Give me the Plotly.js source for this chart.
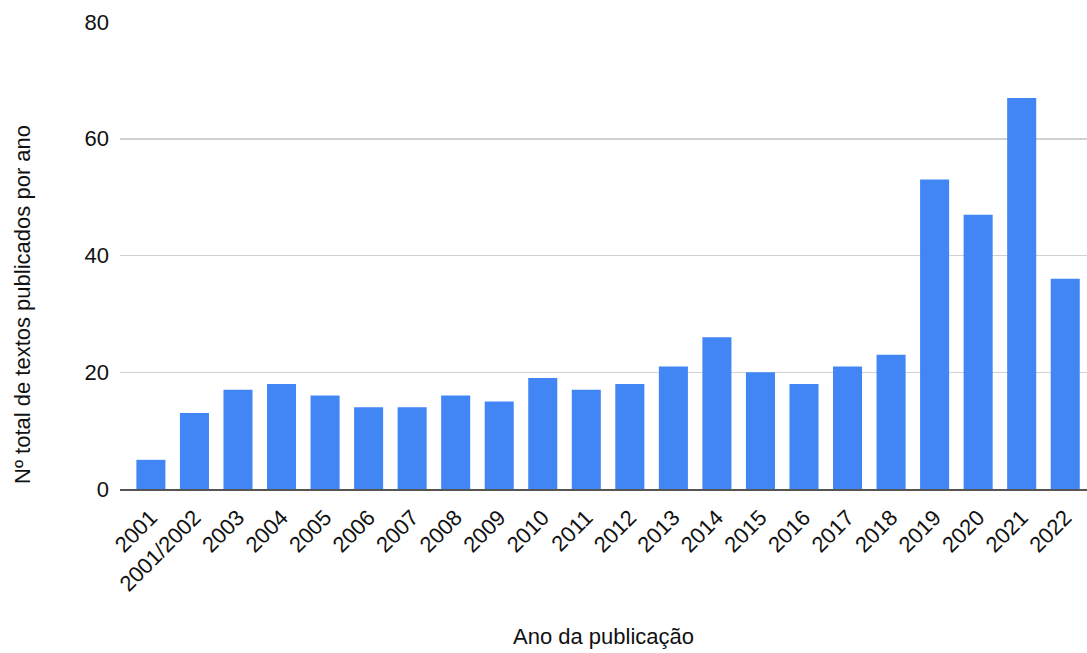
<!DOCTYPE html>
<html>
<head>
<meta charset="utf-8">
<script src="https://cdn.plot.ly/plotly-3.0.1.min.js"></script>
<style>html,body{margin:0;padding:0;background:#fff;}#chart{width:1087px;height:653px;}</style>
</head>
<body>
<div id="chart"></div>
<script>
const categories = ["2001","2001/2002","2003","2004","2005","2006","2007","2008","2009","2010","2011","2012","2013","2014","2015","2016","2017","2018","2019","2020","2021","2022"];
const values = [5,13,17,18,16,14,14,16,15,19,17,18,21,26,20,18,21,23,53,47,67,36];
const yTickVals = [0,20,40,60,80];
const xTitle = "Ano da publicação";
const yTitle = "Nº total de textos publicados por ano";

const font = "Liberation Sans, Arial, sans-serif";
const txt = "#111";
const trace = {
  type: "bar",
  x: categories.map((c, i) => i),
  y: values,
  marker: {color: "#4285F4"},
  hoverinfo: "x+y"
};
const layout = {
  width: 1087, height: 653,
  margin: {l: 120, r: 0, t: 22, b: 163.7},
  paper_bgcolor: "#fff", plot_bgcolor: "#fff",
  bargap: 0.333,
  showlegend: false,
  font: {family: font, size: 22, color: txt},
  xaxis: {
    range: [-0.71, 21.5],
    tickmode: "array",
    tickvals: categories.map((c, i) => i),
    ticktext: categories,
    tickangle: -45,
    showgrid: false,
    zeroline: false,
    showline: true, linecolor: "#555", linewidth: 2,
    ticks: "",
    ticklabelstandoff: 5,
    tickfont: {family: font, size: 22, color: txt}
  },
  yaxis: {
    range: [0, 80],
    tickmode: "array",
    tickvals: yTickVals,
    gridcolor: "#d0d0d0", gridwidth: 1.5,
    zeroline: false,
    showline: false,
    ticks: "",
    ticklabelstandoff: 10,
    tickfont: {family: font, size: 22, color: txt}
  },
  annotations: [{
    text: yTitle, textangle: -90,
    xref: "paper", yref: "paper",
    x: 0, y: 0.394, xanchor: "center", yanchor: "middle",
    xshift: -98, showarrow: false,
    font: {family: font, size: 22, color: txt}
  }, {
    text: xTitle,
    xref: "paper", yref: "paper",
    x: 0.5, y: -0.316, xanchor: "center", yanchor: "middle",
    showarrow: false,
    font: {family: font, size: 22, color: txt}
  }]
};
Plotly.newPlot("chart", [trace], layout, {displayModeBar: false, staticPlot: true});
</script>
</body>
</html>
